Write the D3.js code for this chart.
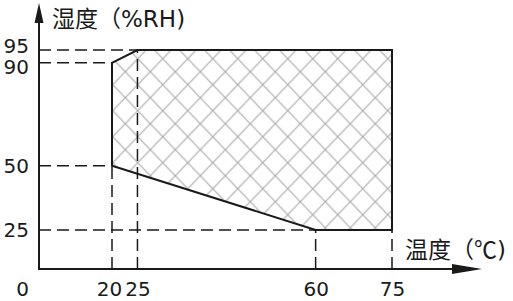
<!DOCTYPE html>
<html>
<head>
<meta charset="utf-8">
<script src="https://cdn.jsdelivr.net/npm/d3@7"></script>
<style>
html,body{margin:0;padding:0;background:#fff;}
svg{display:block;}
</style>
</head>
<body>
<svg id="chart" width="513" height="301"></svg>
<script>
// Data
const xTicks = [0, 20, 25, 60, 75];
const yTicks = [25, 50, 90, 95];
const regionTemp = [20, 20, 25, 75, 75, 60];
const regionHum  = [50, 90, 95, 95, 25, 25];
const xLabelParts = ["温度（℃", ")"];
const yLabelParts = ["湿度（", "%RH)"];

const svg = d3.select("#chart");
const x = d3.scaleLinear().domain([0, 20, 75]).range([22, 112, 392]);
const y = d3.scaleLinear().domain([25, 95]).range([230, 50]);

const axisX0 = 39, axisY0 = 269;
const ink = "#1a1a1a";
const cjk = "'Noto Sans CJK SC', sans-serif";
const latin = "'DejaVu Sans', sans-serif";

// hatch pattern
const defs = svg.append("defs");
const pw = 25, ph = 26;
const pat = defs.append("pattern").attr("id", "hatch")
  .attr("patternUnits", "userSpaceOnUse").attr("width", pw).attr("height", ph)
  .attr("x", 0.3).attr("y", 19.7);
pat.append("path").attr("d", `M${-pw*0.1},${-ph*0.1} L${pw*1.1},${ph*1.1} M${pw*1.1},${-ph*0.1} L${-pw*0.1},${ph*1.1}`)
  .attr("stroke", "#ababab").attr("stroke-width", 1.2).attr("fill", "none");

const pts = regionTemp.map((t, i) => [x(t), y(regionHum[i])]);
svg.append("path")
  .attr("d", d3.line()(pts) + "Z")
  .attr("fill", "url(#hatch)").attr("stroke", ink).attr("stroke-width", 2)
  .attr("stroke-linejoin", "miter");

// dashed guides
const dash = "12,6";
const guides = [
  {h: 95, t: 25}, {h: 90, t: 20}, {h: 50, t: 20}, {h: 25, t: 60}
];
guides.forEach(g => {
  svg.append("line").attr("x1", axisX0).attr("x2", x(g.t))
    .attr("y1", y(g.h)).attr("y2", y(g.h))
    .attr("stroke", ink).attr("stroke-width", 1.5).attr("stroke-dasharray", dash);
});
const vguides = [{t: 20, h: 50}, {t: 25, h: 95}, {t: 60, h: 25}, {t: 75, h: 25}];
vguides.forEach(g => {
  svg.append("line").attr("x1", x(g.t)).attr("x2", x(g.t))
    .attr("y1", axisY0).attr("y2", y(g.h))
    .attr("stroke", ink).attr("stroke-width", 1.5).attr("stroke-dasharray", dash);
});

// axes lines
svg.append("line").attr("x1", axisX0).attr("x2", 460).attr("y1", axisY0).attr("y2", axisY0)
  .attr("stroke", ink).attr("stroke-width", 2);
svg.append("line").attr("x1", axisX0).attr("x2", axisX0).attr("y1", axisY0 + 1).attr("y2", 15)
  .attr("stroke", ink).attr("stroke-width", 2);
svg.append("path").attr("d", `M${axisX0},3 L${axisX0 - 4.5},23 L${axisX0 + 4.5},23 Z`).attr("fill", ink);
svg.append("path").attr("d", `M482,${axisY0} L452,${axisY0 - 5} L452,${axisY0 + 5} Z`).attr("fill", ink);

// tick labels
const gx = svg.append("g").attr("transform", `translate(0,${axisY0})`)
  .call(d3.axisBottom(x).tickValues(xTicks).tickSize(0).tickPadding(13).tickFormat(d3.format("d")));
gx.select(".domain").remove();
gx.selectAll("text").attr("font-family", latin).attr("font-size", 20).attr("fill", ink)
  .attr("dy", "0.71em");
gx.selectAll(".tick").filter(d => d === 20).select("text").attr("dx", -3);

const gy = svg.append("g").attr("transform", `translate(29,0)`)
  .call(d3.axisLeft(y).tickValues(yTicks).tickSize(0).tickPadding(0).tickFormat(d3.format("d")));
gy.select(".domain").remove();
gy.selectAll("text").attr("font-family", latin).attr("font-size", 20).attr("fill", ink);
gy.selectAll(".tick").filter(d => d === 95).select("text").attr("dy", "0.1em");
gy.selectAll(".tick").filter(d => d === 90).select("text").attr("dy", "0.55em");

// axis titles
const ty = svg.append("text").attr("x", 52).attr("y", 27).attr("font-size", 23).attr("fill", ink);
ty.append("tspan").attr("font-family", cjk).text(yLabelParts[0]);
ty.append("tspan").attr("font-family", latin).text(yLabelParts[1]);
const tx = svg.append("text").attr("x", 405).attr("y", 258).attr("font-size", 23).attr("fill", ink);
tx.append("tspan").attr("font-family", cjk).text(xLabelParts[0]);
tx.append("tspan").attr("font-family", latin).text(xLabelParts[1]);
</script>
</body>
</html>
